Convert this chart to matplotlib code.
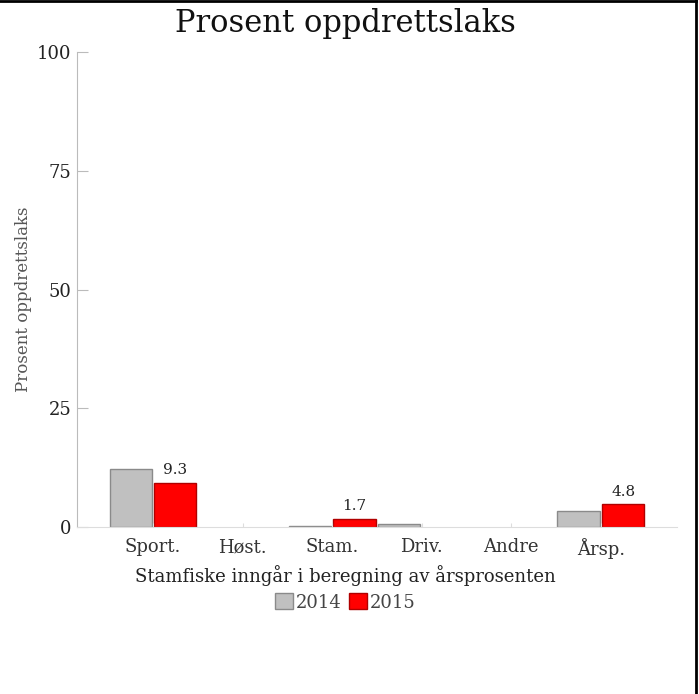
import matplotlib
matplotlib.use("Agg")
import matplotlib.pyplot as plt
from matplotlib.lines import Line2D
import numpy as np

plt.rcParams['font.family'] = ['DejaVu Serif']

categories = ["Sport.", "Høst.", "Stam.", "Driv.", "Andre", "Årsp."]
v2014 = [12.3, 0, 0.2, 0.7, 0, 3.3]
v2015 = [9.3, 0, 1.7, 0, 0, 4.8]
labels2015 = ["9.3", "", "1.7", "", "", "4.8"]

fig = plt.figure(figsize=(6.99, 6.94), dpi=100)
ax = fig.add_axes([0.110, 0.2406, 0.8585, 0.6844])

x = np.arange(len(categories))
w = 0.47
# skip zero-height bars so no stray edges are drawn
h14 = [v if v > 0 else np.nan for v in v2014]
h15 = [v if v > 0 else np.nan for v in v2015]
ax.bar(x - 0.25, h14, w, color="#c0c0c0", edgecolor="#8a8a8a", linewidth=1, label="2014")
ax.bar(x + 0.25, h15, w, color="#ff0000", edgecolor="#b00000", linewidth=1, label="2015")
for i, t in enumerate(labels2015):
    if t:
        ax.text(x[i] + 0.25, v2015[i] + 1.2, t,
                ha="center", va="bottom", fontsize=11, color="#222222")

ax.set_xlim(-0.85, 5.85)
ax.set_ylim(0, 100)
ax.set_yticks([0, 25, 50, 75, 100])
ax.set_xticks(x)
ax.set_xticklabels(categories)
ax.tick_params(axis="y", direction="in", length=8, color="#bbbbbb", labelsize=13, labelcolor="#222222", pad=4)
ax.tick_params(axis="x", direction="in", length=3, color="#dddddd", labelsize=13, labelcolor="#333333", pad=8)

for s in ["top", "right"]:
    ax.spines[s].set_visible(False)
ax.spines["left"].set_color("#bbbbbb")
ax.spines["bottom"].set_color("#dddddd")

ax.set_ylabel("Prosent oppdrettslaks", fontsize=12, color="#555555")
ax.yaxis.set_label_coords(-0.075, 0.48)
ax.set_xlabel("Stamfiske inngår i beregning av årsprosenten", fontsize=13, color="#222222")
ax.xaxis.set_label_coords(0.447, -0.08)

fig.text(0.494, 0.966, "Prosent oppdrettslaks", ha="center", va="center", fontsize=22, color="#111111")

fig.legend(loc="center", bbox_to_anchor=(0.494, 0.132), ncol=2, frameon=False, fontsize=13,
           handlelength=1.0, handleheight=1.0, handletextpad=0.15, columnspacing=0.4,
           labelcolor="#444444")

fig.add_artist(Line2D([0, 0.995], [0.999, 0.999], transform=fig.transFigure, color="black", lw=2))
fig.add_artist(Line2D([0.995, 0.995], [0, 1], transform=fig.transFigure, color="black", lw=2))

fig.savefig("out.png", dpi=100)
